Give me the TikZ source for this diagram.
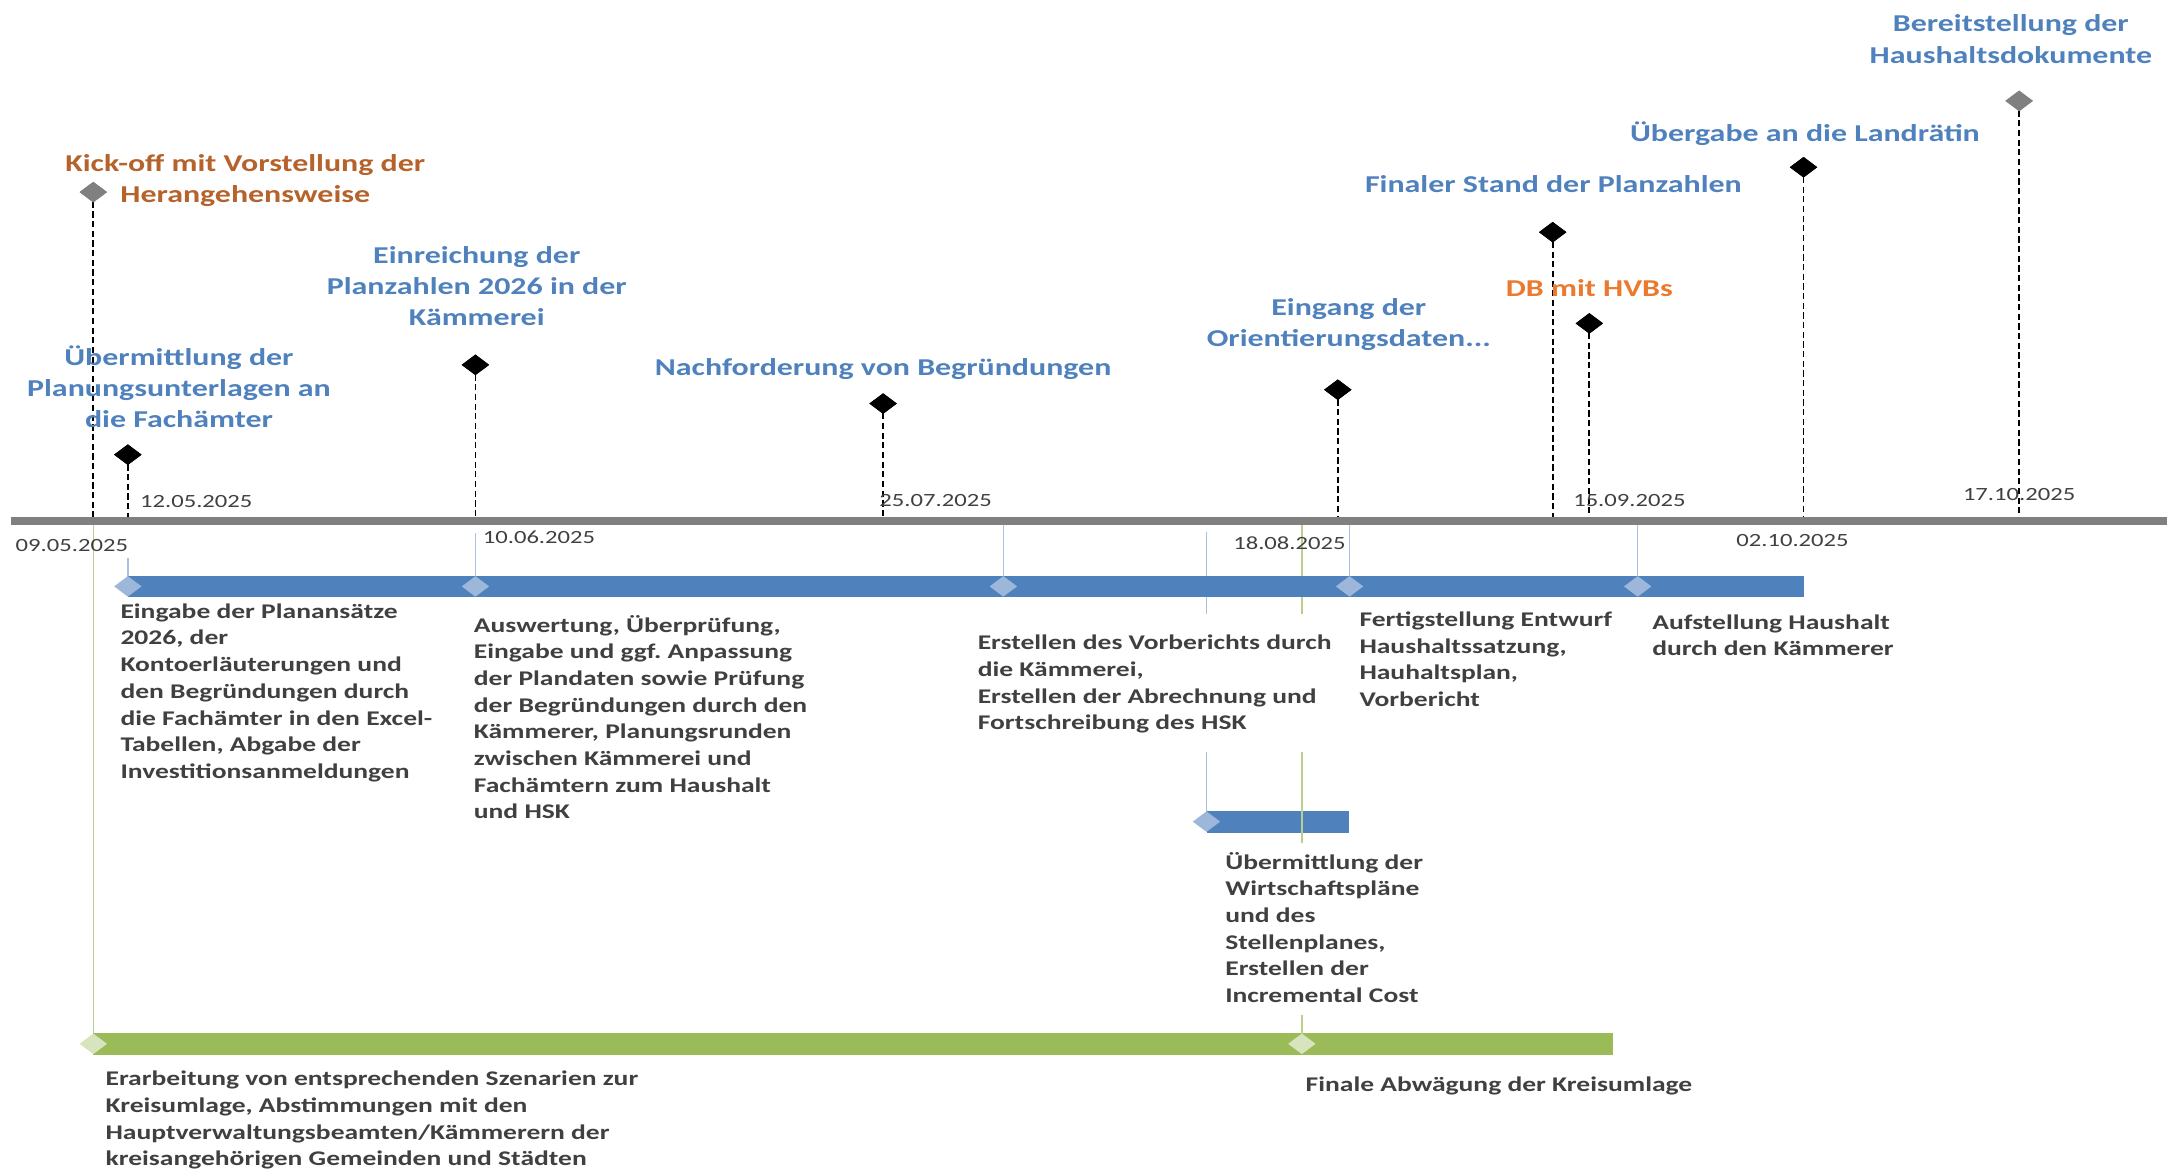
\documentclass[tikz,border=0pt]{standalone}
\usepackage{fontspec}
\setmainfont{Carlito}[FakeStretch=1.32]
\usetikzlibrary{shapes.geometric}
\frenchspacing
\definecolor{axisgray}{HTML}{808080}
\definecolor{barblue}{HTML}{4F81BD}
\definecolor{lightblue}{HTML}{9DB7DA}
\definecolor{tickblue}{HTML}{A9C1E0}
\definecolor{bargreen}{HTML}{9BBB59}
\definecolor{lightgreen}{HTML}{D7E4BD}
\definecolor{tickgreen}{HTML}{B9CF8B}
\definecolor{lblue}{HTML}{4F81BD}
\definecolor{kickbrown}{HTML}{B5622B}
\definecolor{dborange}{HTML}{EB7A2E}
\definecolor{txtgray}{HTML}{404040}
\definecolor{msgray}{HTML}{808080}
\begin{document}
\frenchspacing
\begin{tikzpicture}[x=1pt,y=-1pt,
  ms/.style={diamond, fill=black, draw=none, minimum width=20pt, minimum height=15pt, inner sep=0pt},
  msg/.style={ms, fill=msgray},
  stemline/.style={line width=1.3pt, dash pattern=on 4.5pt off 2.5pt},
  lbl/.style={font=\bfseries\fontsize{17.5}{22.5}\selectfont, text=lblue, align=center, anchor=base, inner sep=0pt},
  datelbl/.style={font=\fontsize{13.5}{16}\selectfont, text=txtgray, anchor=base, inner sep=0pt},
  body/.style={font=\bfseries\fontsize{15.1}{19.3}\selectfont\frenchspacing, text=txtgray, align=left, anchor=base west, inner sep=0pt},
  tickb/.style={draw=tickblue, line width=1pt},
  tickg/.style={draw=tickgreen, line width=1pt},
  ldia/.style={diamond, fill=lightblue, draw=none, minimum width=20pt, minimum height=15pt, inner sep=0pt},
  lgdia/.style={ldia, fill=lightgreen}
]
\useasboundingbox (0,0) rectangle (1568,846);

% axis
\coordinate (axL) at (8,377);
\coordinate (axR) at (1568,377);

% axis points
\coordinate (a1) at (67.5,377);
\coordinate (a2) at (92.5,377);
\coordinate (a3) at (344,377);
\coordinate (a4) at (639,377);
\coordinate (a5) at (968,377);
\coordinate (a6) at (1123.5,377);
\coordinate (a7) at (1150,377);
\coordinate (a8) at (1305,377);
\coordinate (a9) at (1461,377);

% milestones
\node[msg] (m1) at (67.5,139) {};
\node[ms]  (m2) at (92.5,329) {};
\node[ms]  (m3) at (344,264) {};
\node[ms]  (m4) at (639,292) {};
\node[ms]  (m5) at (968,282) {};
\node[ms]  (m6) at (1123.5,168) {};
\node[ms]  (m7) at (1150,234) {};
\node[ms]  (m8) at (1305,121) {};
\node[msg] (m9) at (1461,73) {};

\foreach \i in {1,...,9} \draw[stemline] (m\i.center) -- (a\i);
\foreach \i in {1,9} \node[msg] at (m\i) {};
\foreach \i in {2,...,8} \node[ms] at (m\i) {};

% thin connectors (blue)
\draw[tickb] (92.5,404) -- (92.5,424);
\draw[tickb] (344,386) -- (344,424);
\draw[tickb] (726,377) -- (726,424);
\draw[tickb] (976.5,377) -- (976.5,424);
\draw[tickb] (1185,377) -- (1185,424);
\draw[tickb] (873,385) -- (873,444);
\draw[tickb] (873,544) -- (873,594);
% thin connectors (green)
\draw[tickg] (67.5,377) -- (67.5,755);
\draw[tickg] (942,377) -- (942,444);
\draw[tickg] (942,544) -- (942,610);
\draw[tickg] (942,734.5) -- (942,755);

% axis line
\draw[axisgray, line width=6pt] (axL) -- (axR);

% bars
\fill[barblue] (92.5,416.5) rectangle (1305,432.2);
\fill[barblue] (873,586.6) rectangle (976,602.5);
\fill[bargreen] (67.5,747.2) rectangle (1167,763.4);
\draw[tickg] (942,586.6) -- (942,610);
\draw[tickg] (942,744) -- (942,755);

\node[ldia] (d1) at (92.5,424.3) {};
\node[ldia] (d2) at (344,424.3) {};
\node[ldia] (d3) at (726,424.3) {};
\node[ldia] (d4) at (976.5,424.3) {};
\node[ldia] (d5) at (1185,424.3) {};
\node[ldia] (d6) at (873,594.5) {};
\node[lgdia] (g1) at (67.5,755.3) {};
\node[lgdia] (g2) at (942,755.3) {};

% milestone labels (anchor = baseline of last line)
\node[lbl, text=kickbrown] (l1) at (177.5,146.6) {Kick-off mit Vorstellung der\\Herangehensweise};
\node[lbl] (l2) at (129.5,309.6) {Übermittlung der\\Planungsunterlagen an\\die Fachämter};
\node[lbl] (l3) at (345,235.6) {Einreichung der\\Planzahlen 2026 in der\\Kämmerei};
\node[lbl] (l4) at (639,271.6) {Nachforderung von Begründungen};
\node[lbl] (l5) at (976,250.6) {Eingang der\\Orientierungsdaten...};
\node[lbl] (l6) at (1124,139.6) {Finaler Stand der Planzahlen};
\node[lbl, text=dborange] (l7) at (1150,214.6) {DB mit HVBs};
\node[lbl] (l8) at (1306,102.1) {Übergabe an die Landrätin};
\node[lbl] (l9) at (1455,45.6) {Bereitstellung der\\Haushaltsdokumente};

% dates
\node[datelbl] (t1) at (52,399.3) {09.05.2025};
\node[datelbl] (t2) at (142,367.3) {12.05.2025};
\node[datelbl] (t3) at (390,393.3) {10.06.2025};
\node[datelbl] (t4) at (677,366.3) {25.07.2025};
\node[datelbl] (t5) at (933,397.3) {18.08.2025};
\node[datelbl] (t7) at (1179,366.3) {15.09.2025};
\node[datelbl] (t8) at (1297,395.3) {02.10.2025};
\node[datelbl] (t9) at (1461,362.3) {17.10.2025};

% task texts (anchor = baseline of last line)
\node[body] (b1) at (87,563.2) {Eingabe der Planansätze\\2026, der\\Kontoerläuterungen und\\den Begründungen durch\\die Fachämter in den Excel-\\Tabellen, Abgabe der\\Investitionsanmeldungen};
\node[body] (b2) at (342.7,592.6) {Auswertung, Überprüfung,\\Eingabe und ggf. Anpassung\\der Plandaten sowie Prüfung\\der Begründungen durch den\\Kämmerer, Planungsrunden\\zwischen Kämmerei und\\Fachämtern zum Haushalt\\und HSK};
\node[body] (b3) at (707.3,528.2) {Erstellen des Vorberichts durch\\die Kämmerei,\\Erstellen der Abrechnung und\\Fortschreibung des HSK};
\node[body] (b4) at (983.5,511.3) {Fertigstellung Entwurf\\Haushaltssatzung,\\Hauhaltsplan,\\Vorbericht};
\node[body] (b5) at (1195.4,474.6) {Aufstellung Haushalt\\durch den Kämmerer};
\node[body] (b6) at (886.4,725.5) {Übermittlung der\\Wirtschaftspläne\\und des\\Stellenplanes,\\Erstellen der\\Incremental Cost};
\node[body] (b7) at (76.2,843.5) {Erarbeitung von entsprechenden Szenarien zur\\Kreisumlage, Abstimmungen mit den\\Hauptverwaltungsbeamten/Kämmerern der\\kreisangehörigen Gemeinden und Städten};
\node[body] (b8) at (944.6,789.8) {Finale Abwägung der Kreisumlage};
\end{tikzpicture}
\end{document}
